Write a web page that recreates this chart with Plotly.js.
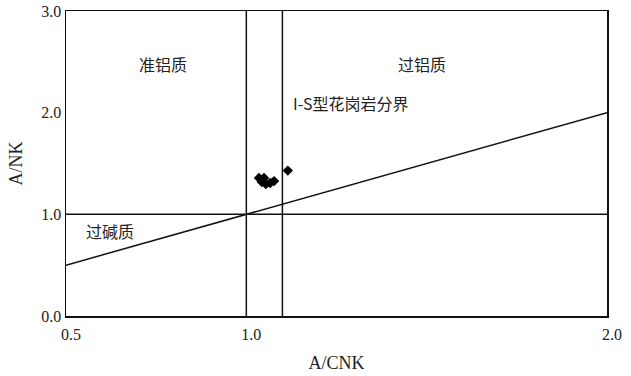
<!DOCTYPE html>
<html>
<head>
<meta charset="utf-8">
<script src="https://cdn.plot.ly/plotly-3.0.1.min.js"></script>
<style>
  html, body { margin: 0; padding: 0; background: #ffffff; }
  #chart { width: 631px; height: 376px; }
</style>
</head>
<body>
<div id="chart"></div>
<script>
// Sample compositions: A/CNK vs A/NK
const acnk = [1.035, 1.049, 1.043, 1.054, 1.066, 1.077, 1.115];
const ank  = [1.357, 1.357, 1.318, 1.298, 1.308, 1.327, 1.430];

// Discrimination boundaries
const metaluminousLimit = 1.0;   // A/CNK = 1
const isBoundary = 1.1;          // I-S granite boundary
const peralkalineLimit = 1.0;    // A/NK = 1
const diagonalX = [0.5, 2.0];    // A/NK = A/CNK line
const diagonalY = [0.5, 2.0];

const xRange = [0.5, 2.0];
const yRange = [0, 3.0];
const xTicks = [0.5, 1.0, 2.0];
const yTicks = [0, 1, 2, 3];
const xTickText = ['0.5', '1.0', '2.0'];
const yTickText = ['0.0', '1.0', '2.0', '3.0'];

// Field labels
const fieldLabels = [
  { text: '准铝质', x: 0.768, y: 2.48, anchor: 'center' },
  { text: '过铝质', x: 1.487, y: 2.48, anchor: 'center' },
  { text: 'I-S型花岗岩分界', x: 1.125, y: 2.10, anchor: 'left' },
  { text: '过碱质', x: 0.622, y: 0.84, anchor: 'center' }
];

const serif = 'Liberation Serif, Times New Roman, serif';
const cjk = 'Noto Sans CJK SC, sans-serif';
const lineStyle = { color: '#111111', width: 1.5 };

const shapes = [
  { type: 'line', xref: 'x', yref: 'y', x0: metaluminousLimit, x1: metaluminousLimit, y0: yRange[0], y1: yRange[1], line: lineStyle },
  { type: 'line', xref: 'x', yref: 'y', x0: isBoundary, x1: isBoundary, y0: yRange[0], y1: yRange[1], line: lineStyle },
  { type: 'line', xref: 'x', yref: 'y', x0: xRange[0], x1: xRange[1], y0: peralkalineLimit, y1: peralkalineLimit, line: lineStyle },
  { type: 'line', xref: 'x', yref: 'y', x0: diagonalX[0], x1: diagonalX[1], y0: diagonalY[0], y1: diagonalY[1], line: lineStyle }
];

const annotations = fieldLabels.map(l => ({
  text: l.text, x: l.x, y: l.y, xref: 'x', yref: 'y',
  xanchor: l.anchor, yanchor: 'middle', showarrow: false,
  font: { family: cjk, size: 16, color: '#222222' }
}));

const trace = {
  type: 'scatter', mode: 'markers',
  x: acnk, y: ank,
  marker: { symbol: 'diamond', size: 8, color: '#000000' },
  hoverinfo: 'x+y'
};

const layout = {
  width: 631, height: 376,
  margin: { l: 66, r: 24, t: 11, b: 60 },
  paper_bgcolor: '#ffffff', plot_bgcolor: '#ffffff',
  showlegend: false,
  xaxis: {
    range: xRange, tickvals: xTicks, ticktext: xTickText,
    showgrid: false, zeroline: false, ticks: '',
    showline: true, mirror: true, linecolor: '#111111', linewidth: 1.5,
    ticklabelstandoff: 3, ticklabelshift: 5,
    tickfont: { family: serif, size: 16, color: '#222222' },
    title: { text: 'A/CNK', font: { family: serif, size: 18, color: '#222222' }, standoff: 14 }
  },
  yaxis: {
    range: yRange, tickvals: yTicks, ticktext: yTickText,
    showgrid: false, zeroline: false, ticks: '',
    showline: true, mirror: true, linecolor: '#111111', linewidth: 1.5,
    tickfont: { family: serif, size: 16, color: '#222222' },
    title: { text: 'A/NK', font: { family: serif, size: 18, color: '#222222' }, standoff: 14 }
  },
  shapes: shapes,
  annotations: annotations
};

Plotly.newPlot('chart', [trace], layout, { displayModeBar: false, staticPlot: true });
</script>
</body>
</html>
